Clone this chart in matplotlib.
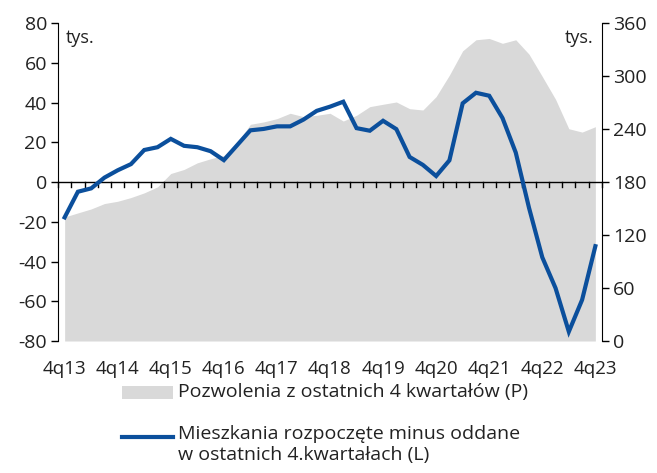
import matplotlib
matplotlib.use("Agg")
import matplotlib.pyplot as plt
from matplotlib.lines import Line2D
from matplotlib.patches import Rectangle
from matplotlib.ticker import FuncFormatter
import numpy as np

plt.rcParams['font.family'] = ['Open Sans', 'DejaVu Sans']

tick_labels = ["4q13", "4q14", "4q15", "4q16", "4q17", "4q18", "4q19", "4q20", "4q21", "4q22", "4q23"]

permits = [140.4, 145, 149.5, 155.6, 158.2, 162.4, 167.7, 174.5, 189.6, 194.2,
           201.7, 206.3, 210, 224.5, 245.3, 248, 251.7, 257.8, 254, 255.5,
           257.8, 249, 255.5, 265.3, 268, 270.6, 263, 261.5, 276.7, 301,
           328.5, 341, 342.5, 337, 341, 324.7, 299.4, 273.6, 240.3, 236.5, 242.6]

starts_minus_completed = [-17.8, -4.9, -3.2, 2.2, 5.9, 9.0, 16.1, 17.5, 21.7, 18.2,
                          17.5, 15.5, 11.0, 18.5, 26.0, 26.7, 28.0, 28.0, 31.4, 35.8,
                          37.9, 40.4, 27.1, 25.8, 30.8, 26.6, 12.6, 8.6, 3.0, 10.9,
                          39.6, 44.9, 43.4, 32.2, 14.8, -13.0, -37.9, -53.4, -75.3, -59.3, -32.3]

label_area = "Pozwolenia z ostatnich 4 kwartałów (P)"
label_line = "Mieszkania rozpoczęte minus oddane\nw ostatnich 4.kwartałach (L)"

GRAY = "#d9d9d9"
BLUE = "#0b4f9c"
TXT = "#222222"

fig = plt.figure(figsize=(6.57, 4.73), dpi=100)
ax = fig.add_axes([58/657, 1-341/473, 544/657, 318/473])
ax2 = ax.twinx()

x = np.arange(len(permits))
ax2.fill_between(x, 0, permits, color=GRAY, lw=0, zorder=1)
ax2.set_ylim(0, 360)
ax2.set_yticks(np.arange(0, 361, 60))

ax.set_zorder(ax2.get_zorder() + 1)
ax.patch.set_visible(False)
ax.axhline(0, color="black", lw=1, zorder=2)
ax.plot(x, starts_minus_completed, color=BLUE, lw=3, solid_joinstyle="miter", zorder=3)
ax.set_ylim(-80, 80)
ax.set_yticks(np.arange(-80, 81, 20))
ax.yaxis.set_major_formatter(FuncFormatter(lambda v, p: f"{v:.0f}"))
ax.set_xlim(-0.5, 40.5)

# tick marks on zero line between categories
for xi in np.arange(-0.5, 41, 1):
    ax.plot([xi, xi], [0, -2.6], color="black", lw=1, zorder=2, clip_on=False)

ax.set_xticks(np.arange(0, 41, 4))
ax.set_xticklabels(tick_labels)
ax.tick_params(axis="x", length=0, pad=14, labelsize=13.5, colors=TXT)
ax.tick_params(axis="y", length=5, width=1, labelsize=14, colors="black", labelcolor=TXT, pad=3)
ax2.tick_params(axis="y", length=5, width=1, labelsize=14, colors="black", labelcolor=TXT, pad=3)

for a in (ax, ax2):
    a.spines["top"].set_visible(False)
    a.spines["bottom"].set_visible(False)
ax.spines["right"].set_visible(False)
ax2.spines["left"].set_visible(False)

ax.text(0.015, 0.98, "tys.", transform=ax.transAxes, ha="left", va="top", fontsize=13, color=TXT)
ax.text(0.985, 0.98, "tys.", transform=ax.transAxes, ha="right", va="top", fontsize=13, color=TXT)

# legend
fig.add_artist(Rectangle((122/657, 1-399/473), 51/657, 13/473, transform=fig.transFigure,
                         facecolor=GRAY, edgecolor="none"))
fig.text(178/657, 1-392/473, label_area, ha="left", va="center", fontsize=14, color=TXT)
fig.add_artist(Line2D([122/657, 173/657], [1-437/473, 1-437/473], transform=fig.transFigure,
                      color=BLUE, lw=3))
fig.text(178/657, 1-425/473, label_line, ha="left", va="top", fontsize=14, color=TXT, linespacing=1.2)

fig.savefig("out.png", dpi=100)
